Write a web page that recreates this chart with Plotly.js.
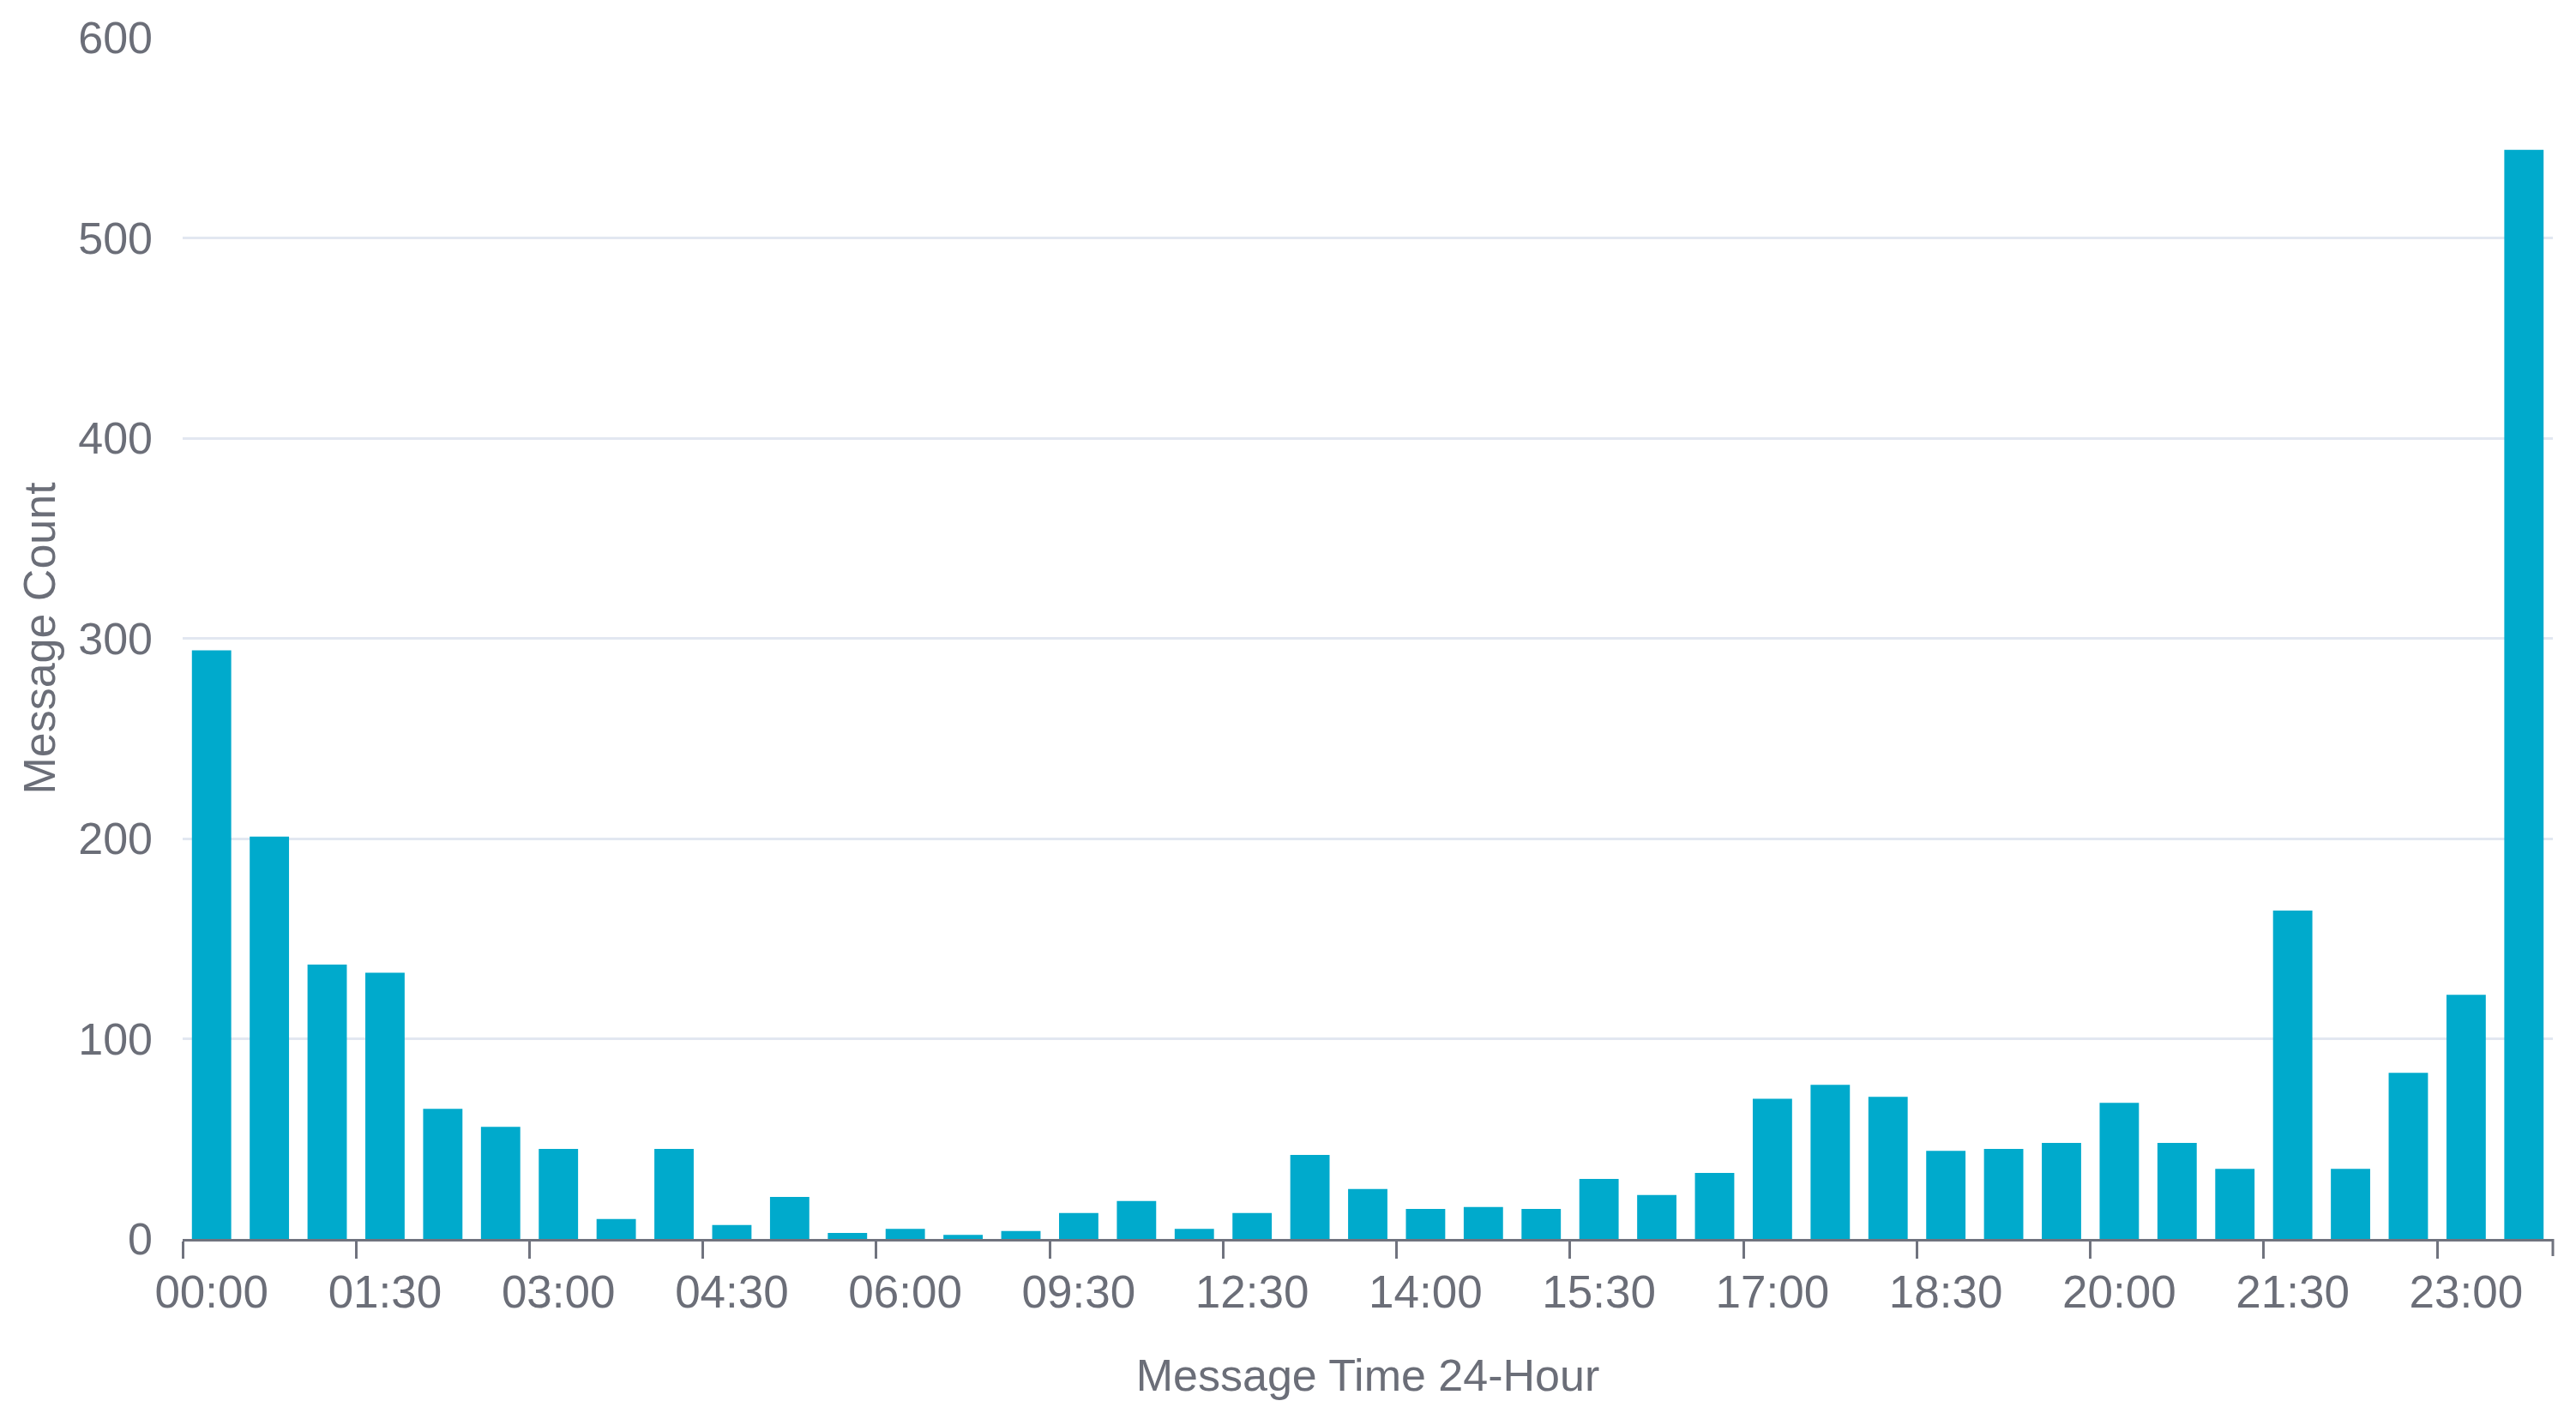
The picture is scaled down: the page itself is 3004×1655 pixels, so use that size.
<!DOCTYPE html>
<html>
<head>
<meta charset="utf-8">
<script src="https://cdn.plot.ly/plotly-3.0.1.min.js"></script>
<style>
  html, body { margin: 0; padding: 0; background: #ffffff; }
  #chart { width: 3004px; height: 1655px; }
</style>
</head>
<body>
<div id="chart"></div>
<script>
// Half-hour time slots (categories) shown on the x axis
const timeSlots = [
  "00:00", "00:30", "01:00", "01:30", "02:00", "02:30", "03:00", "03:30",
  "04:00", "04:30", "05:00", "05:30", "06:00", "07:00", "08:00", "09:30",
  "10:30", "11:30", "12:30", "13:00", "13:30", "14:00", "14:30", "15:00",
  "15:30", "16:00", "16:30", "17:00", "17:30", "18:00", "18:30", "19:00",
  "19:30", "20:00", "20:30", "21:00", "21:30", "22:00", "22:30", "23:00",
  "23:30"
];

// Message counts per slot
const messageCounts = [
  294, 201, 137, 133, 65, 56, 45, 10,
  45, 7, 21, 3, 5, 2, 4, 13,
  19, 5, 13, 42, 25, 15, 16, 15,
  30, 22, 33, 70, 77, 71, 44, 45,
  48, 68, 48, 35, 164, 35, 83, 122,
  544
];

const yTicks = [0, 100, 200, 300, 400, 500, 600];

const textColor = "#6b6e78";
const axisColor = "#70737e";
const fontFamily = "Liberation Sans, Arial, Helvetica, sans-serif";

const trace = {
  type: "bar",
  x: timeSlots,
  y: messageCounts,
  marker: { color: "#00aacc", line: { width: 0 } },
  hoverinfo: "x+y"
};

const layout = {
  width: 3004,
  height: 1655,
  paper_bgcolor: "#ffffff",
  plot_bgcolor: "#ffffff",
  margin: { l: 213, r: 27, t: 44, b: 210, pad: 0 },
  bargap: 0.32,
  showlegend: false,
  font: { family: fontFamily, color: textColor, size: 52 },
  xaxis: {
    type: "category",
    tickmode: "linear",
    tick0: 0,
    dtick: 3,
    tickson: "boundaries",
    tickangle: 0,
    ticks: "outside",
    ticklen: 20,
    tickwidth: 3,
    tickcolor: axisColor,
    showline: true,
    linecolor: axisColor,
    linewidth: 3,
    showgrid: false,
    zeroline: false,
    ticklabelstandoff: 13,
    tickfont: { family: fontFamily, size: 53, color: textColor },
    automargin: false,
    title: {
      text: "Message Time 24-Hour",
      font: { family: fontFamily, size: 52, color: textColor },
      standoff: 52
    }
  },
  yaxis: {
    range: [0, 600],
    tickmode: "array",
    tickvals: yTicks,
    ticktext: yTicks.map(String),
    ticks: "",
    showline: false,
    showgrid: true,
    gridcolor: "#e2e7f1",
    gridwidth: 3,
    zeroline: false,
    ticklabelstandoff: 34,
    tickfont: { family: fontFamily, size: 52, color: textColor },
    automargin: false,
    title: {
      text: "Message Count",
      font: { family: fontFamily, size: 52, color: textColor },
      standoff: 10
    }
  },
  shapes: [
    {
      // closing tick mark at the right end of the x axis
      type: "line",
      xref: "paper", x0: 1, x1: 1,
      yref: "paper", ysizemode: "pixel", yanchor: 0, y0: 0, y1: -20,
      line: { color: axisColor, width: 3 }
    }
  ]
};

Plotly.newPlot("chart", [trace], layout, { displayModeBar: false, staticPlot: true });
</script>
</body>
</html>
